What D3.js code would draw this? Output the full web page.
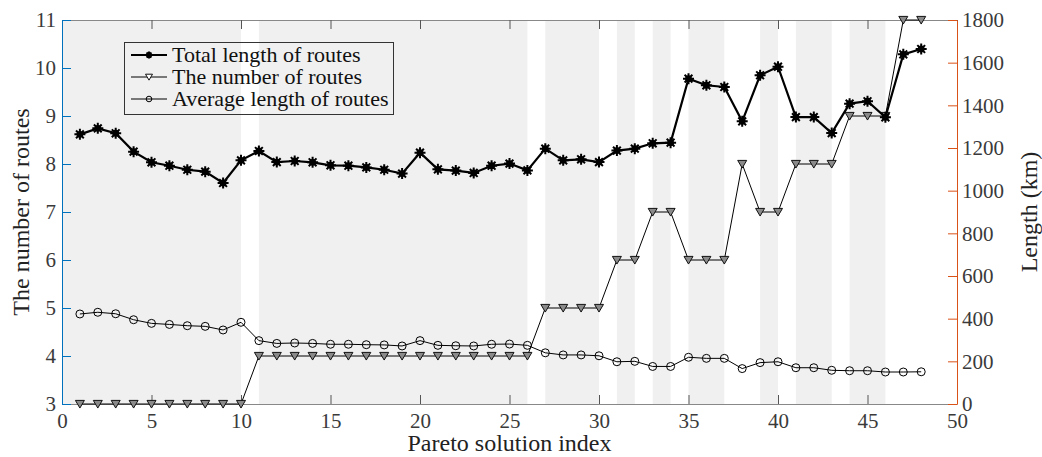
<!DOCTYPE html>
<html>
<head>
<meta charset="utf-8">
<script src="https://cdn.jsdelivr.net/npm/d3@7"></script>
<style>
  body { margin: 0; background: #fff; }
  svg, svg text { font-family: "Liberation Serif", "Times New Roman", serif; }
</style>
</head>
<body>
<div id="chart"></div>
<script>
// data
const solIndex = d3.range(1, 49);
const totalLength = [1264, 1292, 1269, 1183, 1133, 1117, 1098, 1089, 1036, 1142,
  1186, 1134, 1139, 1133, 1119, 1117, 1109, 1098, 1080, 1178,
  1100, 1094, 1083, 1117, 1127, 1095, 1197, 1142, 1147, 1134,
  1188, 1197, 1222, 1225, 1525, 1494, 1486, 1325, 1541, 1581,
  1345, 1345, 1270, 1408, 1419, 1344, 1639, 1664];
const numRoutes = [3, 3, 3, 3, 3, 3, 3, 3, 3, 3,
  4, 4, 4, 4, 4, 4, 4, 4, 4, 4,
  4, 4, 4, 4, 4, 4, 5, 5, 5, 5,
  6, 6, 7, 7, 6, 6, 6, 8, 7, 7,
  8, 8, 8, 9, 9, 9, 11, 11];
const avgLength = [422, 430, 423, 395, 378, 373, 367, 364, 347, 383,
  297, 284, 286, 284, 280, 280, 278, 277, 272, 297,
  275, 273, 272, 280, 281, 275, 240, 230, 230, 226,
  198, 200, 176, 176, 219, 214, 214, 166, 194, 198,
  170, 170, 158, 156, 156, 150, 150, 151];
// shaded groups [from, to] on the x axis
const bands = [[0, 10], [11, 26], [27, 30], [31, 32], [33, 34], [35, 37], [39, 40], [41, 43], [44, 46]];
const xTicks = d3.range(0, 51, 5);
const leftTicks = d3.range(3, 12, 1);
const rightTicks = d3.range(0, 1801, 200);
const legendLabels = ["Total length of routes", "The number of routes", "Average length of routes"];

const W = 1042, H = 457;
const margin = { top: 20, right: 85, bottom: 53, left: 62 };
const iw = W - margin.left - margin.right;
const ih = H - margin.top - margin.bottom;
const FONT = "Liberation Serif, Times New Roman, serif";

const svg = d3.select("#chart").append("svg")
  .attr("width", W).attr("height", H)
  .attr("font-family", FONT);
const g = svg.append("g")
  .attr("transform", "translate(" + margin.left + "," + margin.top + ")");

const x = d3.scaleLinear().domain([0, 50]).range([0, iw]);
const yL = d3.scaleLinear().domain([3, 11]).range([ih, 0]);
const yR = d3.scaleLinear().domain([0, 1800]).range([ih, 0]);

const blue = "#0072BD", orange = "#D95319", txt = "#3a3a3a";

// background bands
g.append("g").selectAll("rect").data(bands).enter().append("rect")
  .attr("x", d => x(d[0]))
  .attr("width", d => x(d[1]) - x(d[0]))
  .attr("y", 0).attr("height", ih)
  .attr("fill", "#f0f0f0");

// axes
const tk = 9;
const tickFs = 21;
const bottomAx = g.append("g").attr("transform", "translate(0," + ih + ")")
  .call(d3.axisBottom(x).tickValues(xTicks).tickSize(-tk).tickPadding(6).tickSizeOuter(0));
bottomAx.attr("font-family", FONT);
bottomAx.select(".domain").attr("stroke", "#888");
bottomAx.selectAll(".tick line").attr("stroke", "#555");
bottomAx.selectAll("text").attr("font-size", tickFs).attr("fill", txt).attr("dy", "0.85em");

const topAx = g.append("g")
  .call(d3.axisTop(x).tickValues(xTicks).tickSize(-tk).tickFormat("").tickSizeOuter(0));
topAx.select(".domain").attr("stroke", "#888");
topAx.selectAll(".tick line").attr("stroke", "#555");

const leftAx = g.append("g")
  .call(d3.axisLeft(yL).tickValues(leftTicks).tickSize(-tk).tickSizeOuter(0));
leftAx.attr("font-family", FONT);
leftAx.select(".domain").attr("stroke", blue);
leftAx.selectAll(".tick line").attr("stroke", blue);
leftAx.selectAll("text").attr("font-size", tickFs).attr("fill", txt).attr("x", -6);

const rightAx = g.append("g").attr("transform", "translate(" + iw + ",0)")
  .call(d3.axisRight(yR).tickValues(rightTicks).tickFormat(d3.format("d")).tickSize(-tk).tickSizeOuter(0));
rightAx.attr("font-family", FONT);
rightAx.select(".domain").attr("stroke", orange);
rightAx.selectAll(".tick line").attr("stroke", orange);
rightAx.selectAll("text").attr("font-size", tickFs).attr("fill", txt).attr("x", 5);

// axis titles
svg.append("text")
  .attr("x", margin.left + iw / 2).attr("y", 451)
  .attr("text-anchor", "middle").attr("font-size", 24).attr("fill", "#222")
  .text("Pareto solution index");
svg.append("text")
  .attr("transform", "translate(29," + (margin.top + ih / 2) + ") rotate(-90)")
  .attr("text-anchor", "middle").attr("font-size", 24).attr("fill", "#222")
  .text("The number of routes");
svg.append("text")
  .attr("transform", "translate(1037," + (margin.top + ih / 2) + ") rotate(-90)")
  .attr("text-anchor", "middle").attr("font-size", 24).attr("fill", "#222")
  .text("Length (km)");

// markers
function starMarker(sel, r) {
  const rays = d3.range(8).map(i => i * Math.PI / 4);
  sel.append("circle").attr("r", r * 0.62).attr("fill", "#000");
  sel.append("path")
    .attr("d", rays.map(a => "M0,0L" + (r * Math.cos(a)).toFixed(2) + "," + (r * Math.sin(a)).toFixed(2)).join(""))
    .attr("stroke", "#000").attr("stroke-width", 2);
}
function triMarker(sel, s, fill) {
  sel.append("path")
    .attr("d", "M" + (-s) + "," + (-s * 0.8) + "L" + s + "," + (-s * 0.8) + "L0," + (s * 0.9) + "Z")
    .attr("fill", fill).attr("stroke", "#111").attr("stroke-width", 1);
}
function circMarker(sel, r) {
  sel.append("circle").attr("r", r).attr("fill", "none").attr("stroke", "#000").attr("stroke-width", 1);
}

const pts = solIndex.map((d, i) => ({ i: d, tot: totalLength[i], n: numRoutes[i], avg: avgLength[i] }));

// average length (right axis)
g.append("path").datum(pts)
  .attr("d", d3.line().x(d => x(d.i)).y(d => yR(d.avg)))
  .attr("fill", "none").attr("stroke", "#000").attr("stroke-width", 1);
g.append("g").selectAll("g").data(pts).enter().append("g")
  .attr("transform", d => "translate(" + x(d.i) + "," + yR(d.avg) + ")")
  .each(function () { circMarker(d3.select(this), 4); });

// number of routes (left axis)
g.append("path").datum(pts)
  .attr("d", d3.line().x(d => x(d.i)).y(d => yL(d.n)))
  .attr("fill", "none").attr("stroke", "#000").attr("stroke-width", 1);
g.append("g").selectAll("g").data(pts).enter().append("g")
  .attr("transform", d => "translate(" + x(d.i) + "," + yL(d.n) + ")")
  .each(function () { triMarker(d3.select(this), 4.5, "#8a8a8a"); });

// total length (right axis)
g.append("path").datum(pts)
  .attr("d", d3.line().x(d => x(d.i)).y(d => yR(d.tot)))
  .attr("fill", "none").attr("stroke", "#000").attr("stroke-width", 2.2);
g.append("g").selectAll("g").data(pts).enter().append("g")
  .attr("transform", d => "translate(" + x(d.i) + "," + yR(d.tot) + ")")
  .each(function () { starMarker(d3.select(this), 5.5); });

// legend
const lg = svg.append("g");
lg.append("rect").attr("x", 124.5).attr("y", 42.5).attr("width", 269).attr("height", 72)
  .attr("fill", "none").attr("stroke", "#333").attr("stroke-width", 1);
const rowsY = [55, 77, 99];
legendLabels.forEach((lab, k) => {
  const row = lg.append("g").attr("transform", "translate(0," + rowsY[k] + ")");
  row.append("line").attr("x1", 131).attr("x2", 167).attr("y1", 0).attr("y2", 0)
    .attr("stroke", "#000").attr("stroke-width", k === 0 ? 2.2 : 1);
  const m = row.append("g").attr("transform", "translate(149,0)");
  if (k === 0) starMarker(m, 3.5);
  else if (k === 1) triMarker(m, 3.5, "#fff");
  else circMarker(m, 2.8);
  row.append("text").attr("x", 172).attr("y", 0).attr("dy", "0.33em")
    .attr("font-size", 22).attr("fill", "#111").text(lab);
});
</script>
</body>
</html>
